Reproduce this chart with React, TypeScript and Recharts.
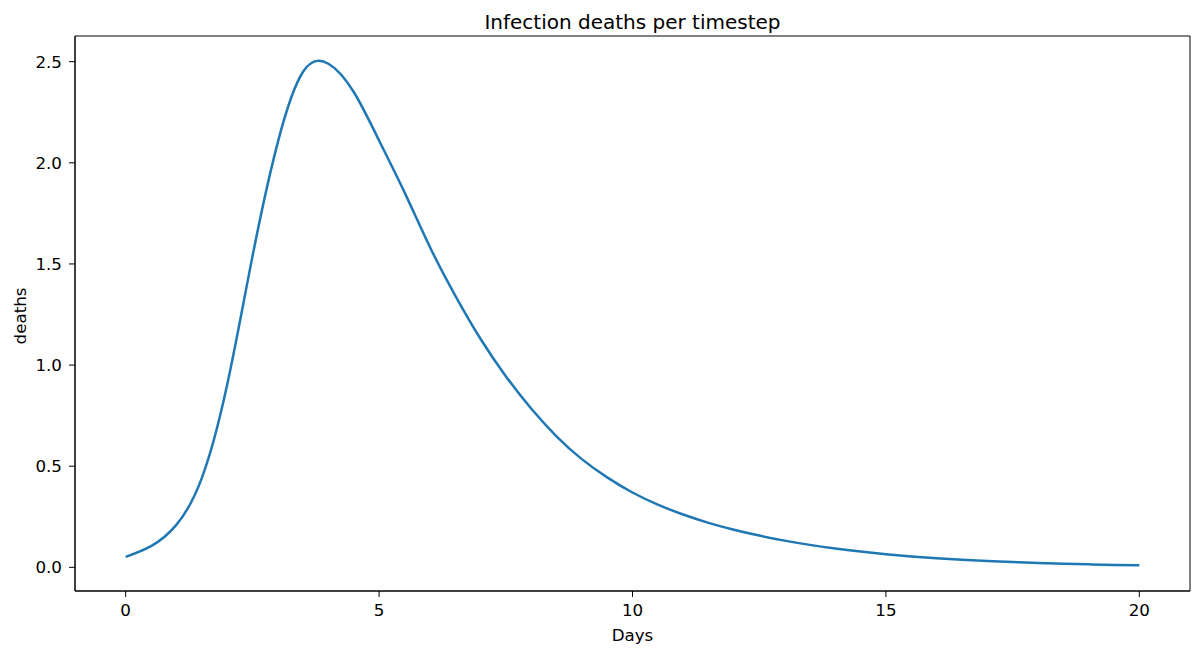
import { LineChart, Line, XAxis, YAxis, ReferenceArea } from 'recharts';

const days = [
  0, 0.5, 1, 1.5, 2, 2.5, 3, 3.5, 4, 4.5, 5, 5.5, 6, 6.5, 7, 7.5, 8, 8.5, 9, 9.5, 10,
  10.5, 11, 11.5, 12, 12.5, 13, 13.5, 14, 14.5, 15, 15.5, 16, 16.5, 17, 17.5, 18, 18.5, 19, 19.5, 20,
];
const deaths = [
  0.052, 0.105, 0.21, 0.44, 0.9, 1.535, 2.1, 2.45, 2.49, 2.35, 2.11, 1.855, 1.585, 1.345, 1.13, 0.945, 0.785, 0.648, 0.535, 0.445, 0.37,
  0.31, 0.261, 0.22, 0.186, 0.157, 0.132, 0.111, 0.093, 0.078, 0.065, 0.054, 0.045, 0.037, 0.031, 0.026, 0.021, 0.018, 0.015, 0.012, 0.01,
];
const xTicks = [0, 5, 10, 15, 20];
const yTicks = [0, 0.5, 1, 1.5, 2, 2.5];

const data = days.map((d, i) => ({ day: d, deaths: deaths[i] }));

const font = '"DejaVu Sans", sans-serif';
const X_DOMAIN: [number, number] = [-1, 21];
const Y_DOMAIN: [number, number] = [-0.117, 2.627];

export default function App() {
  return (
    <div style={{ position: 'absolute', left: 0, top: 0, width: 1202, height: 657, background: '#fff', fontFamily: font }}>
      <div style={{ position: 'absolute', left: 75, width: 1115, top: 9.5, textAlign: 'center', fontSize: 20, color: '#000' }}>
        Infection deaths per timestep
      </div>
      <div style={{ position: 'absolute', left: 75, width: 1115, top: 625, textAlign: 'center', fontSize: 16.7, color: '#000' }}>
        Days
      </div>
      <div
        style={{
          position: 'absolute', left: 19.5, top: 316, fontSize: 16.7, color: '#000', whiteSpace: 'nowrap',
          transform: 'translate(-50%, -50%) rotate(-90deg)',
        }}
      >
        deaths
      </div>
      <LineChart width={1202} height={657} data={data} margin={{ top: 36, right: 12, bottom: 36, left: 15 }}>
        <XAxis
          dataKey="day"
          type="number"
          domain={X_DOMAIN}
          ticks={xTicks}
          allowDataOverflow
          height={30}
          tickSize={6}
          tickMargin={7}
          stroke="#000"
          tick={{ fill: '#000', fontSize: 16.7, fontFamily: font }}
          tickLine={{ stroke: '#000' }}
          axisLine={{ stroke: '#000' }}
        />
        <YAxis
          type="number"
          domain={Y_DOMAIN}
          ticks={yTicks}
          allowDataOverflow
          width={60}
          tickSize={6}
          tickMargin={7}
          tickFormatter={(v: number) => v.toFixed(1)}
          tick={{ fill: '#000', fontSize: 16.7, fontFamily: font }}
          tickLine={{ stroke: '#000' }}
          axisLine={{ stroke: '#000' }}
        />
        <ReferenceArea
          x1={X_DOMAIN[0]}
          x2={X_DOMAIN[1]}
          y1={Y_DOMAIN[0]}
          y2={Y_DOMAIN[1]}
          fill="none"
          fillOpacity={0}
          stroke="#000"
          strokeWidth={1}
        />
        <Line
          type="natural"
          dataKey="deaths"
          stroke="#1f77b4"
          strokeWidth={2.5}
          dot={false}
          activeDot={false}
          isAnimationActive={false}
        />
      </LineChart>
    </div>
  );
}
